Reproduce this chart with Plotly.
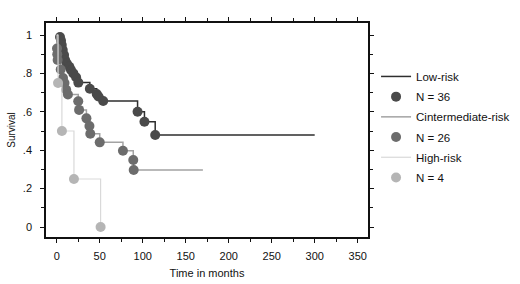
import plotly.graph_objects as go

# ---- data ----
low_t = [0, 3.8, 5, 5.8, 7, 8.5, 9.7, 11.6, 14.7, 16.6, 19.3, 22.5, 25.1, 38.5, 46.5, 48.5, 54, 94, 102, 114.5, 300]
low_s = [1.0, 0.99, 0.97, 0.948, 0.922, 0.896, 0.87, 0.853, 0.835, 0.818, 0.8, 0.78, 0.752, 0.72, 0.693, 0.68, 0.656, 0.6, 0.548, 0.479, 0.479]

int_t = [0, 0.3, 0.6, 1, 4.6, 7.3, 9, 11, 13, 25, 26, 34.5, 38, 39, 50, 77, 89, 89.5, 170]
int_s = [1.0, 0.93, 0.9, 0.87, 0.82, 0.776, 0.75, 0.715, 0.69, 0.655, 0.61, 0.566, 0.526, 0.486, 0.441, 0.397, 0.349, 0.297, 0.297]

high_t = [0, 1.5, 6, 20, 51]
high_s = [1.0, 0.75, 0.5, 0.25, 0.0]

group_names = ["Low-risk", "Cintermediate-risk", "High-risk"]
group_n = ["N = 36", "N = 26", "N = 4"]

x_ticks = [0, 50, 100, 150, 200, 250, 300, 350]
y_ticks = [0, 0.2, 0.4, 0.6, 0.8, 1]
y_ticktext = ["0", ".2", ".4", ".6", ".8", "1"]

line_colors = ["#2e2e2e", "#a3a3a3", "#d9d9d9"]
marker_colors = ["#4a4a4a", "#6c6c6c", "#b5b5b5"]
line_widths = [1.5, 1.5, 1.2]

series = [(low_t, low_s, True), (int_t, int_s, True), (high_t, high_s, False)]

fig = go.Figure()
for i, (t, s, has_end) in enumerate(series):
    fig.add_trace(go.Scatter(
        x=t, y=s, mode="lines", line_shape="hv",
        line=dict(color=line_colors[i], width=line_widths[i]),
        name=group_names[i], showlegend=True, legendgroup=f"l{i}",
    ))
    mt = t[1:-1] if has_end else t[1:]
    ms = s[1:-1] if has_end else s[1:]
    fig.add_trace(go.Scatter(
        x=mt, y=ms, mode="markers",
        marker=dict(symbol="circle", size=10, color=marker_colors[i]),
        name=group_n[i], showlegend=True, legendgroup=f"m{i}",
    ))

font = dict(family="Liberation Sans, Arial, sans-serif", size=11, color="#111111")

fig.update_layout(
    width=520, height=284,
    margin=dict(l=46, r=152, t=23, b=47, autoexpand=False),
    plot_bgcolor="white", paper_bgcolor="white",
    font=font,
    legend=dict(x=1.025, xanchor="left", y=0.818, yanchor="top",
                itemwidth=30, tracegroupgap=1.2, font=dict(size=11.5),
                bgcolor="rgba(0,0,0,0)"),
)
fig.update_xaxes(
    range=[-12.5, 362], tickvals=x_ticks, showgrid=False, zeroline=False,
    showline=True, linecolor="#111", linewidth=1.5, mirror="allticks",
    ticks="outside", ticklen=4, tickcolor="#111", ticklabelstandoff=4,
    minor=dict(dtick=25, tick0=0, ticks="outside", ticklen=3, tickcolor="#111", showgrid=False),
    title=dict(text="Time in months", standoff=8, font=dict(size=11)),
)
fig.update_yaxes(
    range=[-0.052, 1.0625], tickvals=y_ticks, ticktext=y_ticktext, showgrid=False, zeroline=False,
    showline=True, linecolor="#111", linewidth=1.5, mirror="allticks",
    ticks="outside", ticklen=4, tickcolor="#111", ticklabelstandoff=6,
    minor=dict(dtick=0.1, tick0=0, ticks="outside", ticklen=3, tickcolor="#111", showgrid=False),
    title=dict(text="Survival", standoff=5, font=dict(size=10)),
)

fig.write_html("out.html", config={"displayModeBar": False},
               post_script="document.body.style.margin='0';")
